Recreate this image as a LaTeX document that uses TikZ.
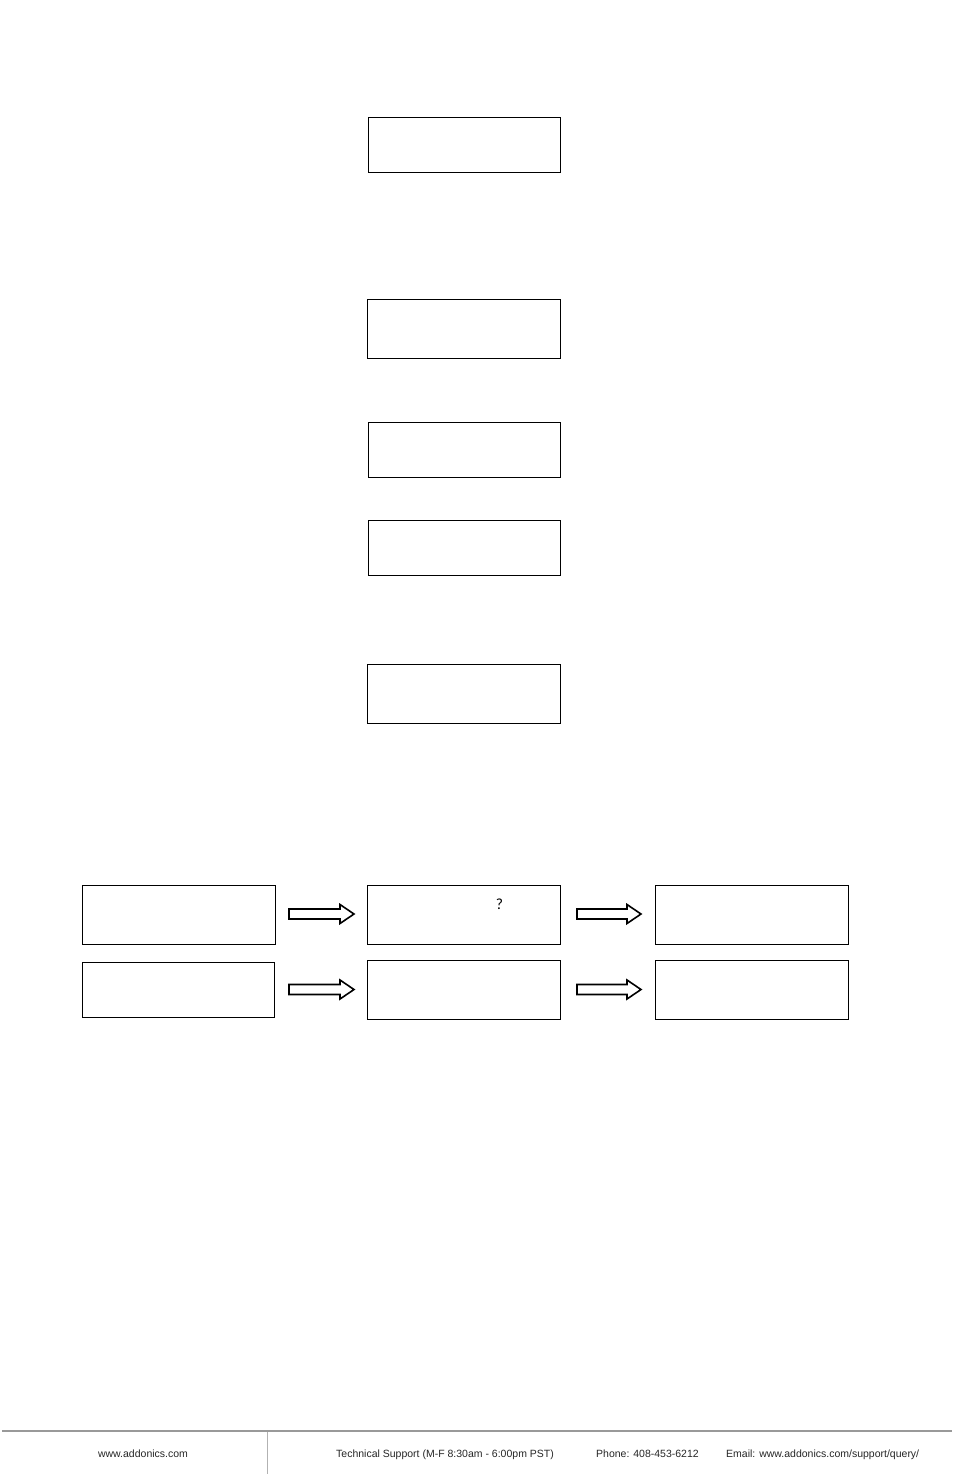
\documentclass[tikz,border=0pt]{standalone}
\usepackage{fontspec}
\setmainfont{Liberation Sans}
\newfontfamily\qfont{Carlito}
\tikzset{
  box/.style={draw=black, line width=1pt, anchor=north west, inner sep=0pt},
  blockarrow/.style={draw=black, line width=1.6pt, line join=miter, fill=white},
  foot/.style={font=\fontsize{10.5}{12}\selectfont, text=black!85, inner sep=0pt},
}
\newcommand{\blockarr}[3]{% x-tail, x-tip, y-center
  \pgfmathsetmacro{\hb}{#2-14}
  \draw[blockarrow] (#1,#3-5) -- (\hb,#3-5) -- (\hb,#3-9.5) -- (#2,#3) -- (\hb,#3+9.5) -- (\hb,#3+5) -- (#1,#3+5) -- cycle;
}
\begin{document}
\begin{tikzpicture}[x=1pt,y=-1pt]
\useasboundingbox (0,0) rectangle (954,1475);
% vertical column of boxes
\node[box, minimum width=192pt, minimum height=55pt] (b1) at (368,117) {};
\node[box, minimum width=193pt, minimum height=59pt] (b2) at (367,299) {};
\node[box, minimum width=192pt, minimum height=55pt] (b3) at (368,422) {};
\node[box, minimum width=192pt, minimum height=55pt] (b4) at (368,520) {};
\node[box, minimum width=193pt, minimum height=59pt] (b5) at (367,664) {};
% row 1
\node[box, minimum width=193pt, minimum height=59pt] (ra) at (82,885) {};
\node[box, minimum width=193pt, minimum height=59pt] (rb) at (367,885) {};
\node[box, minimum width=193pt, minimum height=59pt] (rc) at (655,885) {};
% row 2
\node[box, minimum width=192pt, minimum height=55pt] (sa) at (82,962) {};
\node[box, minimum width=193pt, minimum height=59pt] (sb) at (367,960) {};
\node[box, minimum width=193pt, minimum height=59pt] (sc) at (655,960) {};
% question mark
\node[font=\qfont\fontsize{15.5}{17}\selectfont, inner sep=0pt, anchor=base] (q) at (499.5,909.5) {?};
% block arrows
\blockarr{289}{354}{914}
\blockarr{577}{641}{914}
\blockarr{289}{354}{989.5}
\blockarr{577}{641}{989.5}
% footer
\draw[line width=2pt, black!40] (2,1430.5) -- (952,1430.5);
\draw[line width=0.8pt, black!30] (267.5,1432) -- (267.5,1474);
\node[foot, anchor=base] (f1) at (143,1457) {www.addonics.com};
\node[foot, anchor=base west] (f2) at (336,1457) {Technical Support (M-F 8:30am - 6:00pm PST)};
\node[foot, anchor=base west] (f3) at (596,1457) {Phone: 408-453-6212};
\node[foot, anchor=base west] (f4) at (726,1457) {Email: www.addonics.com/support/query/};
\end{tikzpicture}
\end{document}
